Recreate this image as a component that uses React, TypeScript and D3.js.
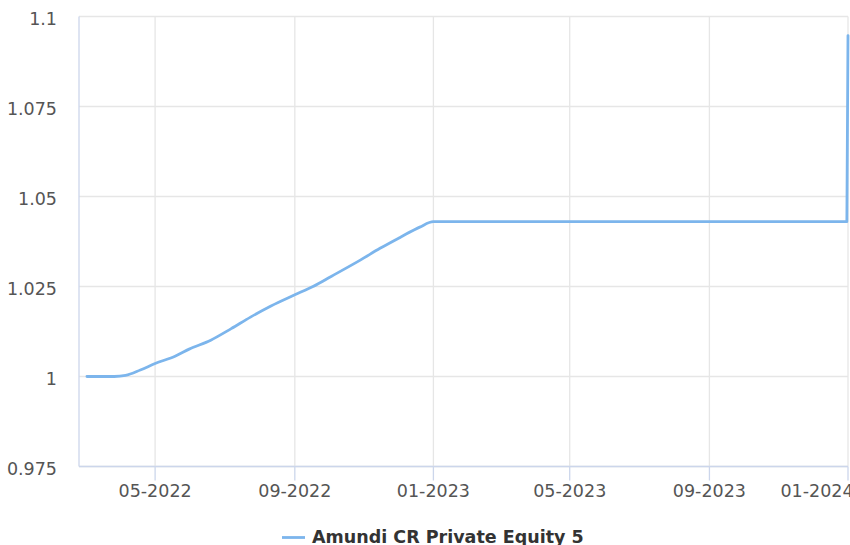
import React from 'react';
import * as d3 from 'd3';

// values
const dates = [
  '2022-03-02', '2022-03-26', '2022-04-05', '2022-04-18', '2022-05-01', '2022-05-19',
  '2022-05-31', '2022-06-19', '2022-07-07', '2022-07-24', '2022-08-11', '2022-09-01',
  '2022-09-17', '2022-10-03', '2022-10-29', '2022-11-15', '2022-12-03', '2022-12-20',
  '2023-01-01', '2023-12-31', '2024-01-01',
];
const values = [
  1.0, 1.0, 1.0003, 1.0018, 1.0036, 1.0057,
  1.0076, 1.0101, 1.0133, 1.0165, 1.0196, 1.0227,
  1.025, 1.0278, 1.0324, 1.0356, 1.0387, 1.0415,
  1.043, 1.043, 1.0947,
];
const yTicks = [0.975, 1, 1.025, 1.05, 1.075, 1.1];
const xTicks = ['2022-05-01', '2022-09-01', '2023-01-01', '2023-05-01', '2023-09-01', '2024-01-01'];
const seriesName = 'Amundi CR Private Equity 5';

const W = 850, H = 545;
const left = 79, right = 848, top = 16.5, bottom = 466.5;
const font = 'DejaVu Sans, sans-serif';
const lineColor = '#7cb5ec';

export default function App() {
  const x = d3.scaleTime()
    .domain([new Date('2022-02-23'), new Date('2024-01-01')])
    .range([left, right]);
  const y = d3.scaleLinear().domain([0.975, 1.1]).range([bottom, top]);

  const points = dates.map((d, i) => ({ date: new Date(d), value: values[i] }));
  const line = d3.line<{ date: Date; value: number }>()
    .x(d => x(d.date))
    .y(d => y(d.value))
    .curve(d3.curveMonotoneX);

  const fmtX = d3.timeFormat('%m-%Y');

  return (
    <svg width={W} height={H} style={{ position: 'absolute', left: 0, top: 0, background: '#fff' }}
      fontFamily={font}>
      {yTicks.map(t => (
        <g key={'y' + t}>
          <line x1={left} x2={right} y1={y(t)} y2={y(t)} stroke="#e6e6e6" strokeWidth={1.3} />
          <text x={57} y={y(t) + 8} textAnchor="end" fontSize={17.5} fill="#555">{String(t)}</text>
        </g>
      ))}
      {xTicks.map(t => {
        const xx = x(new Date(t));
        // keep the last label inside the frame like the original does
        const lx = Math.min(xx, 817);
        return (
          <g key={'x' + t}>
            <line x1={xx} x2={xx} y1={top} y2={bottom} stroke="#e6e6e6" strokeWidth={1.3} />
            <line x1={xx} x2={xx} y1={bottom} y2={480.5} stroke="#ccd6eb" strokeWidth={1.3} />
            <text x={lx} y={496.5} textAnchor="middle" fontSize={17.5} fill="#555">{fmtX(new Date(t))}</text>
          </g>
        );
      })}
      <line x1={left} x2={left} y1={top} y2={bottom} stroke="#ccd6eb" strokeWidth={1.3} />
      <line x1={left} x2={right} y1={bottom} y2={bottom} stroke="#ccd6eb" strokeWidth={1.3} />

      <path d={line(points) || ''} fill="none" stroke={lineColor} strokeWidth={2.8}
        strokeLinejoin="round" strokeLinecap="round" />

      <g>
        <line x1={282} x2={305} y1={537.5} y2={537.5} stroke={lineColor} strokeWidth={2.8} />
        <text x={312} y={543} fontSize={17.5} fontWeight="bold" fill="#333">{seriesName}</text>
      </g>
    </svg>
  );
}
